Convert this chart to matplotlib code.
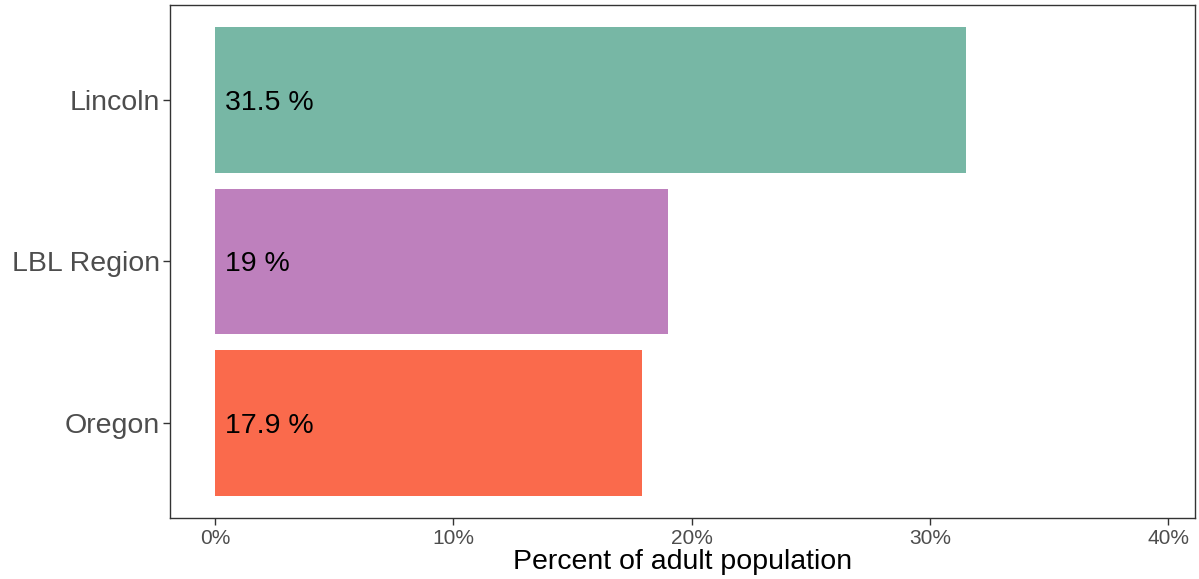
import matplotlib.pyplot as plt

# data
regions = ['Oregon', 'LBL Region', 'Lincoln']
values = [17.9, 19.0, 31.5]
labels = ['17.9 %', '19 %', '31.5 %']
colors = ['#FA6A4C', '#BE80BD', '#77B7A5']
xticks = [0, 10, 20, 30, 40]
xtick_labels = ['0%', '10%', '20%', '30%', '40%']

plt.rcParams['font.family'] = ['Liberation Sans', 'DejaVu Sans']

fig = plt.figure(figsize=(11.99, 5.79), dpi=100)
ax = fig.add_axes([0.1418, 0.1054, 0.8549, 0.886])

pos = list(range(1, len(regions) + 1))
ax.barh(pos, values, height=0.9, color=colors)
for p, lab in zip(pos, labels):
    ax.text(0.4, p, lab, va='center_baseline', ha='left', fontsize=20.5, color='black')

ax.set_xlim(-1.89, 41.13)
ax.set_ylim(0.412, 3.588)
ax.set_xticks(xticks)
ax.set_xticklabels(xtick_labels)
ax.set_yticks(pos)
ax.set_yticklabels(regions)
ax.tick_params(axis='x', labelsize=15, colors='#333333', labelcolor='#4D4D4D', length=5, width=1, pad=3)
ax.tick_params(axis='y', labelsize=20.5, colors='#333333', labelcolor='#4D4D4D', length=5, width=1, pad=2)
for s in ax.spines.values():
    s.set_color('#333333')
    s.set_linewidth(1)
ax.set_xlabel('Percent of adult population', fontsize=20.5, color='black', labelpad=1)

fig.savefig('out.png', dpi=100)
